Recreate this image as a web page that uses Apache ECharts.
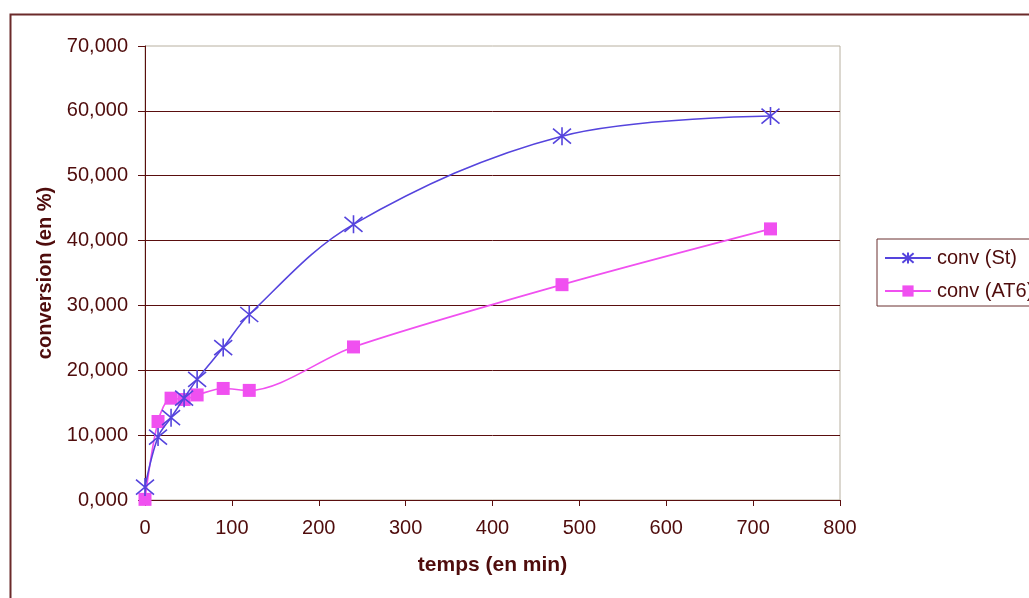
<!DOCTYPE html>
<html>
<head>
<meta charset="utf-8">
<script src="https://cdn.jsdelivr.net/npm/echarts@6/dist/echarts.min.js"></script>
<style>
html,body{margin:0;padding:0;background:#fff;}
#chart{width:1029px;height:598px;}
</style>
</head>
<body>
<div id="chart"></div>
<script>
// Data (time in minutes, conversion in %)
const timeMin = [0, 15, 30, 45, 60, 90, 120, 240, 480, 720];
const convSt  = [2.0, 9.7, 12.7, 15.7, 18.6, 23.5, 28.6, 42.5, 56.1, 59.2];
const convAT6 = [0.1, 12.1, 15.7, 15.5, 16.2, 17.2, 16.9, 23.6, 33.2, 41.8];
const seriesNames = ['conv (St)', 'conv (AT6)'];
const xTicks = [0, 100, 200, 300, 400, 500, 600, 700, 800];
const yTicks = [0, 10, 20, 30, 40, 50, 60, 70];

const maroon = '#5a0e0e';
const textCol = '#4f0c0c';
const blue = '#5544dd';
const pink = '#f050f0';
const font = '"Liberation Sans", Arial, sans-serif';

const pairs = (xs, ys) => xs.map((x, i) => [x, ys[i]]);
const asterisk = 'path://M0,0L10,10M10,0L0,10M5,-1L5,11';

const chart = echarts.init(document.getElementById('chart'), null, {renderer: 'canvas'});
chart.setOption({
  animation: false,
  backgroundColor: '#ffffff',
  graphic: [{
    type: 'rect', left: 8, top: 12, z: -1, silent: true,
    shape: {x: 0, y: 0, width: 1200, height: 800},
    style: {fill: 'none', stroke: '#6b2a2a', lineWidth: 2}
  }],
  grid: {
    left: 145, right: 189, top: 46, bottom: 98,
    show: true, borderColor: '#b8b0a0', borderWidth: 1, backgroundColor: 'transparent'
  },
  legend: {
    orient: 'vertical', left: 877, top: 239,
    data: seriesNames,
    borderColor: '#6b3030', borderWidth: 1,
    padding: [9, 12, 5, 7],
    itemWidth: 46, itemHeight: 14, itemGap: 13,
    textStyle: {fontFamily: font, fontSize: 20, color: textCol, padding: [0, 0, 0, 1]}
  },
  xAxis: {
    type: 'value', min: xTicks[0], max: xTicks[xTicks.length - 1], interval: 100,
    name: 'temps (en min)', nameLocation: 'middle', nameGap: 55,
    nameTextStyle: {fontFamily: font, fontSize: 21, fontWeight: 'bold', color: textCol},
    axisLine: {show: true, onZero: false, lineStyle: {color: maroon, width: 1}},
    axisTick: {show: true, inside: false, length: 6, lineStyle: {color: maroon}},
    axisLabel: {fontFamily: font, fontSize: 20, color: textCol, margin: 18},
    splitLine: {show: false}
  },
  yAxis: {
    type: 'value', min: yTicks[0], max: yTicks[yTicks.length - 1], interval: 10,
    name: 'conversion (en %)', nameLocation: 'middle', nameGap: 88, nameRotate: 90,
    nameTextStyle: {fontFamily: font, fontSize: 20, fontWeight: 'bold', color: textCol},
    axisLine: {show: true, onZero: false, lineStyle: {color: maroon, width: 1}},
    axisTick: {show: true, inside: false, length: 7, lineStyle: {color: maroon}},
    axisLabel: {fontFamily: font, fontSize: 20, color: textCol, margin: 17,
      formatter: v => v.toFixed(3).replace('.', ',')},
    splitLine: {show: true, showMinLine: false, showMaxLine: false, lineStyle: {color: maroon, width: 1}}
  },
  series: [{
    name: seriesNames[0], type: 'line', smooth: 0.35,
    data: pairs(timeMin, convSt),
    symbol: asterisk, symbolSize: [18, 18],
    lineStyle: {color: blue, width: 1.6},
    itemStyle: {color: blue, borderColor: blue, borderWidth: 1.6},
    z: 3
  }, {
    name: seriesNames[1], type: 'line', smooth: 0.3,
    data: pairs(timeMin, convAT6),
    symbol: 'rect', symbolSize: 13,
    lineStyle: {color: pink, width: 1.6},
    itemStyle: {color: pink, borderWidth: 0},
    z: 2
  }]
});
</script>
</body>
</html>
